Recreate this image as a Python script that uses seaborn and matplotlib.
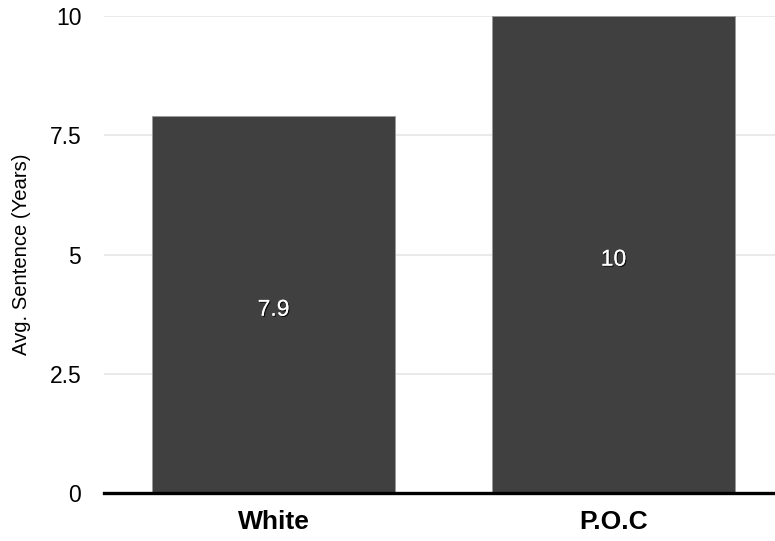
import matplotlib
matplotlib.use("Agg")
import matplotlib.pyplot as plt
import matplotlib.patheffects as pe
import seaborn as sns
import pandas as pd

# Average sentence length by group
groups = ["White", "P.O.C"]
avg_sentence = [7.9, 10]
y_ticks = [0, 2.5, 5, 7.5, 10]
y_tick_labels = ["0", "2.5", "5", "7.5", "10"]

df = pd.DataFrame({"group": groups, "years": avg_sentence})

sns.set_theme(style="white")
plt.rcParams["font.family"] = ["Liberation Sans", "DejaVu Sans"]

fig = plt.figure(figsize=(7.75, 5.41), dpi=100)
ax = fig.add_axes([103.5 / 775, 48 / 541, 1 - 103.5 / 775, 477 / 541])

sns.barplot(data=df, x="group", y="years", color="#404040", saturation=1,
            width=0.715, edgecolor="#9a9a9a", linewidth=0.6, ax=ax, zorder=3)

ax.set_ylim(0, 10)
ax.set_xlim(-0.5, 1.475)
ax.set_yticks(y_ticks)
ax.set_yticklabels(y_tick_labels)
ax.yaxis.grid(True, color="#e6e6e6", linewidth=1.2, zorder=0)
ax.set_axisbelow(True)

for s in ["top", "right", "left"]:
    ax.spines[s].set_visible(False)
ax.spines["bottom"].set_color("black")
ax.spines["bottom"].set_linewidth(2.4)
ax.spines["bottom"].set_zorder(5)

ax.tick_params(axis="y", length=0, pad=16, labelsize=16.5, labelcolor="black")
ax.tick_params(axis="x", length=0, pad=12, labelsize=19, labelcolor="black")
for lbl in ax.get_xticklabels():
    lbl.set_fontweight("bold")

ax.set_xlabel("")
ax.set_ylabel("Avg. Sentence (Years)", fontsize=14.6, color="black")
ax.yaxis.set_label_coords(-0.108, 0.5)

shadow = [pe.withSimplePatchShadow(offset=(0.8, -0.8), shadow_rgbFace="black", alpha=0.8), pe.Normal()]
for i, v in enumerate(avg_sentence):
    ax.annotate(f"{v:g}", xy=(i, v / 2), xytext=(0, -8), textcoords="offset points",
                ha="center", va="baseline", color="white",
                fontsize=16.5, path_effects=shadow, zorder=6)

fig.savefig("out.png", dpi=100)
